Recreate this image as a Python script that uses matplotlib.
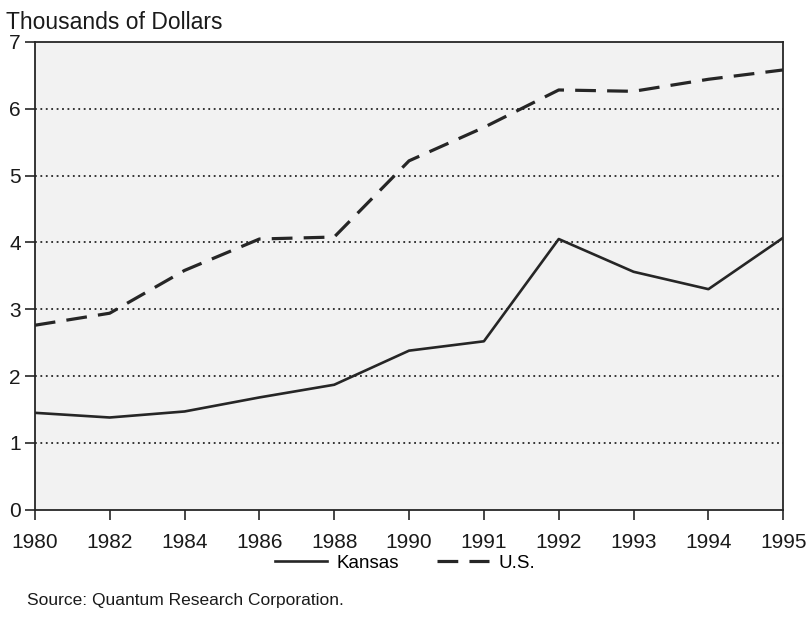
"""Kansas vs U.S. line chart, 1980-1995 (thousands of dollars)."""

import matplotlib
matplotlib.use('Agg')
import matplotlib.pyplot as plt

years = ['1980', '1982', '1984', '1986', '1988', '1990',
         '1991', '1992', '1993', '1994', '1995']
kansas = [1.45, 1.38, 1.47, 1.68, 1.87, 2.38, 2.52, 4.05, 3.56, 3.30, 4.07]
us = [2.76, 2.94, 3.58, 4.05, 4.08, 5.22, 5.72, 6.28, 6.26, 6.44, 6.58]
yticks = [0, 1, 2, 3, 4, 5, 6, 7]

plt.rcParams['font.family'] = ['Liberation Sans', 'DejaVu Sans']

ink = '#262626'
fig = plt.figure(figsize=(8.1, 6.34), dpi=100)
ax = fig.add_axes([0.043, 0.196, 0.924, 0.738])
ax.set_facecolor('#f2f2f2')

x = list(range(len(years)))
ax.plot(x, kansas, color=ink, lw=1.9, label='Kansas')
ax.plot(x, us, color=ink, lw=2.3, dashes=(6.5, 3.5), label='U.S.')

ax.set_xlim(0, len(years) - 1)
ax.set_ylim(0, 7)
ax.set_xticks(x)
ax.set_xticklabels(years)
ax.set_yticks(yticks)
for y in yticks[1:-1]:
    ax.axhline(y, color=ink, lw=1.3, ls=(0, (1, 2)), zorder=1)

for s in ax.spines.values():
    s.set_color(ink)
    s.set_linewidth(1.3)
ax.tick_params(axis='both', colors=ink, labelsize=15, length=7, width=1.2,
               labelcolor='#1a1a1a')
ax.tick_params(axis='y', pad=3)
ax.tick_params(axis='x', pad=10)

fig.text(0.008, 0.965, 'Thousands of Dollars', fontsize=16.5,
         color='#1a1a1a', va='center')
fig.legend(loc='center', bbox_to_anchor=(0.5, 0.112), ncol=2, frameon=False,
           fontsize=13.5, handlelength=2.8, columnspacing=2.0, handletextpad=0.5)
fig.text(0.033, 0.053, 'Source: Quantum Research Corporation.', fontsize=12.5,
         color='#1a1a1a', va='center')

fig.savefig('out.png', dpi=100)
